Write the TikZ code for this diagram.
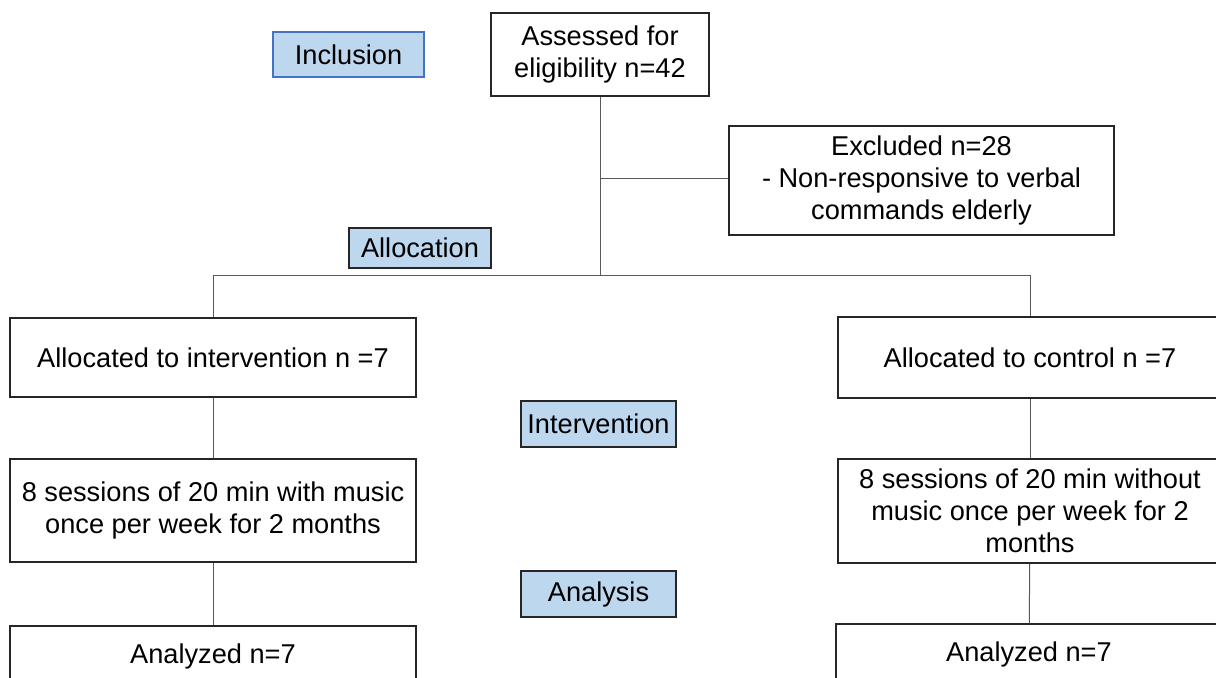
\documentclass[tikz,border=0pt]{standalone}
\usepackage{fontspec}
\setmainfont{Liberation Sans}
\usepackage{xcolor}
\usetikzlibrary{positioning}
\definecolor{stagefill}{HTML}{BDD7EE}
\definecolor{stageblue}{HTML}{4472C4}

\begin{document}
\begin{tikzpicture}[
  x=0.5pt, y=-0.5pt,
  box/.style={rectangle, draw=black!85, line width=0.7pt, align=center, inner sep=0pt,
              font=\fontsize{13.6}{15.9}\selectfont},
  stage/.style={box, fill=stagefill, minimum width=77.5pt, minimum height=23pt},
  link/.style={draw=black!65, line width=0.5pt}
]
\useasboundingbox (0,0) rectangle (1216,677);
% enrolment
\node[stage, draw=stageblue, minimum width=75.5pt, minimum height=22.5pt] (incl) at (348.5,54.5) {Inclusion};
\node[box, minimum width=109pt, minimum height=41.5pt] (assess) at (600,54.5) {Assessed for\\eligibility n=42};
\node[box, minimum width=192.5pt, minimum height=54.5pt] (excl) at (921.5,180.5)
  {Excluded n=28\\- Non-responsive to verbal\\commands elderly};
\node[stage, minimum width=71pt, minimum height=20pt] (alloc) at (420,248) {Allocation};
% two arms
\node[box, minimum width=203pt, minimum height=39.5pt] (intalloc) at (213,357.5) {Allocated to intervention n =7};
\node[box, minimum width=192pt, minimum height=40.5pt] (ctlalloc) at (1030,357.5) {Allocated to control n =7};
\node[stage] (intv) at (598.5,424) {Intervention};
\node[box, minimum width=203pt, minimum height=51.5pt] (intsess) at (213,510.5)
  {8 sessions of 20 min with music\\once per week for 2 months};
\node[box, minimum width=192pt, minimum height=52pt] (ctlsess) at (1030,511)
  {8 sessions of 20 min without\\music once per week for 2\\months};
\node[stage] (anal) at (598.5,594) {Analysis};
\node[box, minimum width=203pt, minimum height=50pt, text depth=22pt] (intan) at (213,676) {Analyzed n=7};
\node[box, minimum width=193pt, minimum height=50pt, text depth=22pt] (ctlan) at (1029,674) {Analyzed n=7};
% connectors
\coordinate (branch) at (600,178);
\coordinate (split) at (600,275);
\draw[link] (assess) -- (split);
\draw[link] (branch) -- (branch -| excl.west);
\draw[link] (intalloc.north) |- (split) -| (ctlalloc.north);
\draw[link] (intalloc) -- (intsess);
\draw[link] (intsess) -- (intan);
\draw[link] (ctlalloc) -- (ctlsess);
\draw[link] (ctlsess) -- (ctlan);
\end{tikzpicture}
\end{document}
